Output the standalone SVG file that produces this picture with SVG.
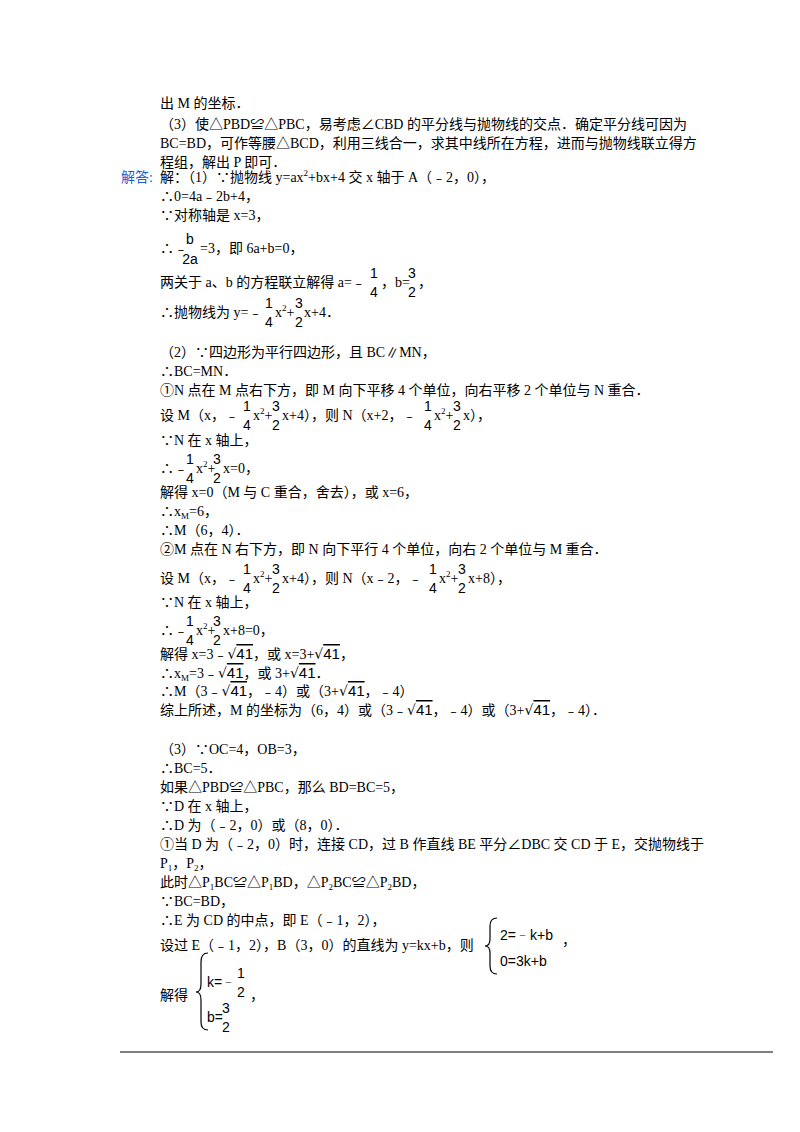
<svg xmlns="http://www.w3.org/2000/svg" width="800" height="1132" viewBox="0 0 800 1132">
<style>
text{font-family:"Liberation Serif","Noto Sans CJK SC",serif;font-size:14px;fill:#000}
.f{font-family:"Liberation Sans","Noto Sans CJK SC",sans-serif;font-size:14px;text-anchor:middle}
.s{font-size:9px}
.b{fill:#1a5fd6}
.r{font-family:"DejaVu Serif",serif;font-size:14px}
.o{text-decoration:overline;font-family:"Liberation Sans",sans-serif;font-size:15px}
.br{fill:none;stroke:#000;stroke-width:1.2}
</style>
<rect width="800" height="1132" fill="#fff"/>
<g id="text">
<text x="160" y="108">出 M 的坐标．</text>
<text x="160" y="129">（3）使△PBD≌△PBC，易考虑∠CBD 的平分线与抛物线的交点．确定平分线可因为</text>
<text x="160" y="148">BC=BD，可作等腰△BCD，利用三线合一，求其中线所在方程，进而与抛物线联立得方</text>
<text x="160" y="167">程组，解出 P 即可．</text>
<text x="121" y="182" class="b">解答:</text>
<text x="160" y="182">解：（1）∵抛物线 y=ax<tspan class="s" dy="-6">2</tspan><tspan dy="6">+bx+4 交 x 轴于 A（﹣2，0），</tspan></text>
<text x="160" y="201">∴0=4a﹣2b+4，</text>
<text x="160" y="220">∵对称轴是 x=3，</text>
<text x="160" y="253">∴﹣</text>
<text class="f" x="190" y="244">b</text><text class="f" x="190" y="264">2a</text>
<text x="200" y="253">=3，即 6a+b=0，</text>
<text x="160" y="287">两关于 a、b 的方程联立解得  a=﹣</text>
<text class="f" x="374" y="278">1</text><text class="f" x="374" y="297">4</text>
<text x="381" y="287">，b=</text>
<text class="f" x="412" y="278">3</text><text class="f" x="412" y="297">2</text>
<text x="418" y="287">，</text>
<text x="160" y="317">∴抛物线为 y=﹣</text>
<text class="f" x="269" y="308">1</text><text class="f" x="269" y="327">4</text>
<text x="275" y="317">x<tspan class="s" dy="-6">2</tspan><tspan dy="6">+</tspan></text>
<text class="f" x="299" y="308">3</text><text class="f" x="299" y="327">2</text>
<text x="304" y="317">x+4．</text>

<text x="160" y="357">（2）∵四边形为平行四边形，且 BC∥MN，</text>
<text x="160" y="376">∴BC=MN．</text>
<text x="160" y="395">①N 点在 M 点右下方，即 M 向下平移 4 个单位，向右平移 2 个单位与 N 重合．</text>
<text x="160" y="420">设 M（x，﹣</text>
<text class="f" x="247" y="411">1</text><text class="f" x="247" y="430">4</text>
<text x="253" y="420">x<tspan class="s" dy="-6">2</tspan><tspan dy="6">+</tspan></text>
<text class="f" x="276" y="411">3</text><text class="f" x="276" y="430">2</text>
<text x="282" y="420">x+4），则 N（x+2，﹣</text>
<text class="f" x="428" y="411">1</text><text class="f" x="428" y="430">4</text>
<text x="434" y="420">x<tspan class="s" dy="-6">2</tspan><tspan dy="6">+</tspan></text>
<text class="f" x="457" y="411">3</text><text class="f" x="457" y="430">2</text>
<text x="463" y="420">x），</text>
<text x="160" y="445">∵N 在 x 轴上，</text>
<text x="160" y="473">∴﹣</text>
<text class="f" x="190" y="464">1</text><text class="f" x="190" y="483">4</text>
<text x="196" y="473">x<tspan class="s" dy="-6">2</tspan><tspan dy="6">+</tspan></text>
<text class="f" x="217" y="464">3</text><text class="f" x="217" y="483">2</text>
<text x="223" y="473">x=0，</text>
<text x="160" y="497">解得  x=0（M 与 C 重合，舍去），或 x=6，</text>
<text x="160" y="516">∴x<tspan class="s" dy="3">M</tspan><tspan dy="-3">=6，</tspan></text>
<text x="160" y="535">∴M（6，4）．</text>
<text x="160" y="554">②M 点在 N 右下方，即 N 向下平行 4 个单位，向右 2 个单位与 M 重合．</text>
<text x="160" y="583">设 M（x，﹣</text>
<text class="f" x="247" y="574">1</text><text class="f" x="247" y="593">4</text>
<text x="253" y="583">x<tspan class="s" dy="-6">2</tspan><tspan dy="6">+</tspan></text>
<text class="f" x="276" y="574">3</text><text class="f" x="276" y="593">2</text>
<text x="282" y="583">x+4），则 N（x﹣2，﹣</text>
<text class="f" x="433" y="574">1</text><text class="f" x="433" y="593">4</text>
<text x="439" y="583">x<tspan class="s" dy="-6">2</tspan><tspan dy="6">+</tspan></text>
<text class="f" x="462" y="574">3</text><text class="f" x="462" y="593">2</text>
<text x="468" y="583">x+8），</text>
<text x="160" y="607">∵N 在 x 轴上，</text>
<text x="160" y="635">∴﹣</text>
<text class="f" x="190" y="626">1</text><text class="f" x="190" y="645">4</text>
<text x="196" y="635">x<tspan class="s" dy="-6">2</tspan><tspan dy="6">+</tspan></text>
<text class="f" x="217" y="626">3</text><text class="f" x="217" y="645">2</text>
<text x="223" y="635">x+8=0，</text>

<text x="160" y="659">解得  x=3﹣<tspan class="r">√</tspan><tspan class="o">41</tspan>，或 x=3+<tspan class="r">√</tspan><tspan class="o">41</tspan>，</text>
<text x="160" y="678">∴x<tspan class="s" dy="3">M</tspan><tspan dy="-3">=3﹣</tspan><tspan class="r">√</tspan><tspan class="o">41</tspan>，或 3+<tspan class="r">√</tspan><tspan class="o">41</tspan>．</text>
<text x="160" y="696">∴M（3﹣<tspan class="r">√</tspan><tspan class="o">41</tspan>，﹣4）或（3+<tspan class="r">√</tspan><tspan class="o">41</tspan>，﹣4）</text>
<text x="160" y="715">综上所述，M 的坐标为（6，4）或（3﹣<tspan class="r">√</tspan><tspan class="o">41</tspan>，﹣4）或（3+<tspan class="r">√</tspan><tspan class="o">41</tspan>，﹣4）．</text>

<text x="160" y="754">（3）∵OC=4，OB=3，</text>
<text x="160" y="773">∴BC=5．</text>
<text x="160" y="792">如果△PBD≌△PBC，那么 BD=BC=5，</text>
<text x="160" y="811">∵D 在 x 轴上，</text>
<text x="160" y="830">∴D 为（﹣2，0）或（8，0）．</text>
<text x="160" y="849">①当 D 为（﹣2，0）时，连接 CD，过 B 作直线 BE 平分∠DBC 交 CD 于 E，交抛物线于</text>
<text x="160" y="868">P<tspan class="s" dy="3">1</tspan><tspan dy="-3">，P</tspan><tspan class="s" dy="3">2</tspan><tspan dy="-3">，</tspan></text>
<text x="160" y="887">此时△P<tspan class="s" dy="3">1</tspan><tspan dy="-3">BC≌△P</tspan><tspan class="s" dy="3">1</tspan><tspan dy="-3">BD，△P</tspan><tspan class="s" dy="3">2</tspan><tspan dy="-3">BC≌△P</tspan><tspan class="s" dy="3">2</tspan><tspan dy="-3">BD，</tspan></text>
<text x="160" y="906">∵BC=BD，</text>
<text x="160" y="925">∴E 为 CD 的中点，即 E（﹣1，2），</text>
<text x="160" y="950">设过 E（﹣1，2），B（3，0）的直线为 y=kx+b，则</text>
<path class="br" d="M497,918 Q490,918 490,926 L490,939 Q490,946 485,946 Q490,946 490,953 L490,966 Q490,974 497,974"/>
<text x="500" y="940" style="font-family:'Liberation Sans',sans-serif">2=﹣k+b</text>
<text x="500" y="966" style="font-family:'Liberation Sans',sans-serif">0=3k+b</text>
<text x="562" y="945">，</text>
<text x="160" y="1000">解得</text>
<path class="br" d="M208,953 Q201,953 201,962 L201,984 Q201,992 196,992 Q201,992 201,1000 L201,1022 Q201,1030 208,1030"/>
<text x="207" y="987" style="font-family:'Liberation Sans',sans-serif">k=﹣</text>
<text class="f" x="241" y="978">1</text><text class="f" x="241" y="997">2</text>
<text x="207" y="1022" style="font-family:'Liberation Sans',sans-serif">b=</text>
<text class="f" x="226" y="1013">3</text><text class="f" x="226" y="1032">2</text>
<text x="250" y="1000">，</text>
</g>
<g id="connectors">
<line x1="120" y1="1052" x2="773" y2="1052" stroke="#000" stroke-width="1.2"/>
</g>
</svg>
